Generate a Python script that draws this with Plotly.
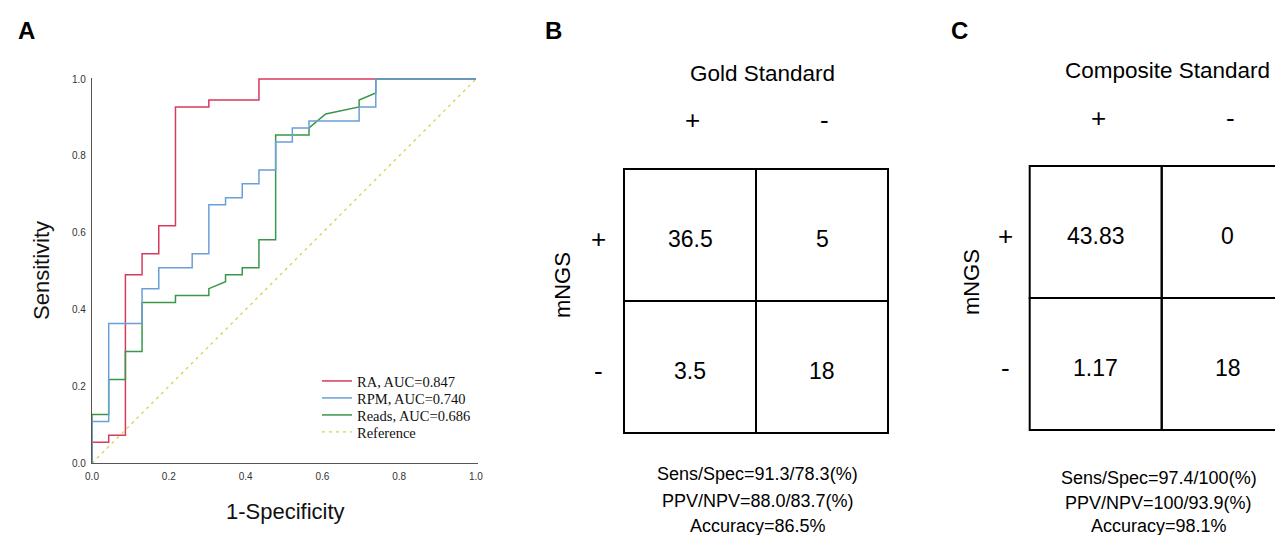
import plotly.graph_objects as go

# ---------------- Panel A: ROC curves ----------------
ra_fpr = [0, 0, 0.0435, 0.0435, 0.087, 0.087, 0.1304, 0.1304, 0.1739, 0.1739,
          0.2174, 0.2174, 0.3043, 0.3043, 0.4348, 0.4348, 1.0]
ra_tpr = [0, 0.0545, 0.0545, 0.0727, 0.0727, 0.4909, 0.4909, 0.5455, 0.5455, 0.6182,
          0.6182, 0.9273, 0.9273, 0.9455, 0.9455, 1.0, 1.0]

rpm_fpr = [0, 0, 0.0435, 0.0435, 0.1304, 0.1304, 0.1739, 0.1739, 0.2609, 0.2609,
           0.3043, 0.3043, 0.3478, 0.3478, 0.3913, 0.3913, 0.4348, 0.4348, 0.4783, 0.4783,
           0.5217, 0.5217, 0.5652, 0.5652, 0.6957, 0.6957, 0.7391, 0.7391, 1.0]
rpm_tpr = [0, 0.1091, 0.1091, 0.3636, 0.3636, 0.4545, 0.4545, 0.5091, 0.5091, 0.5455,
           0.5455, 0.6727, 0.6727, 0.6909, 0.6909, 0.7273, 0.7273, 0.7636, 0.7636, 0.8364,
           0.8364, 0.8727, 0.8727, 0.8909, 0.8909, 0.9273, 0.9273, 1.0, 1.0]

reads_fpr = [0, 0, 0.0435, 0.0435, 0.087, 0.087, 0.1304, 0.1304, 0.2174, 0.2174,
             0.3043, 0.3043, 0.3478, 0.3478, 0.3913, 0.3913, 0.4348, 0.4348, 0.4783, 0.4783,
             0.5652, 0.5652, 0.6087, 0.6957, 0.6957, 0.7391, 0.7391, 1.0]
reads_tpr = [0, 0.1273, 0.1273, 0.2182, 0.2182, 0.2909, 0.2909, 0.4182, 0.4182, 0.4364,
             0.4364, 0.4545, 0.4727, 0.4909, 0.4909, 0.5091, 0.5091, 0.5818, 0.5818, 0.8545,
             0.8545, 0.8727, 0.9091, 0.9273, 0.9455, 0.9636, 1.0, 1.0]

ref_x = [0, 1]
ref_y = [0, 1]

roc_names = ["RA, AUC=0.847", "RPM, AUC=0.740", "Reads, AUC=0.686", "Reference"]
roc_ticks = [0.0, 0.2, 0.4, 0.6, 0.8, 1.0]

# ---------------- Panels B & C: 2x2 tables ----------------
col_labels = ["+", "-"]
row_labels = ["+", "-"]
row_title = "mNGS"

gold_title = "Gold Standard"
gold_values = [["36.5", "5"], ["3.5", "18"]]
gold_stats = ["Sens/Spec=91.3/78.3(%)", "PPV/NPV=88.0/83.7(%)", "Accuracy=86.5%"]

comp_title = "Composite Standard"
comp_values = [["43.83", "0"], ["1.17", "18"]]
comp_stats = ["Sens/Spec=97.4/100(%)", "PPV/NPV=100/93.9(%)", "Accuracy=98.1%"]

panel_letters = ["A", "B", "C"]

# ---------------- styling ----------------
W, H = 1283, 535
OFF = 8.0  # page body margin of the html page
SANS = "Liberation Sans, Arial, sans-serif"
SERIF = "Liberation Serif, Times New Roman, serif"
C_RA = "#d8395e"
C_RPM = "#6a9fd8"
C_READS = "#3a9648"
C_REF = "#dcd245"


def px_x(p):
    return (p - OFF) / W


def px_y(p):
    return 1 - (p - OFF) / H


fig = go.Figure()

legend_ids = ["legend", "legend2", "legend3", "legend4"]
fig.add_trace(go.Scatter(x=ref_x, y=ref_y, mode="lines", name=roc_names[3],
                         line=dict(color=C_REF, width=1.3, dash="3px,4px"),
                         legend=legend_ids[3], xaxis="x", yaxis="y"))
fig.add_trace(go.Scatter(x=ra_fpr, y=ra_tpr, mode="lines", name=roc_names[0],
                         line=dict(color=C_RA, width=1.5), legend=legend_ids[0],
                         xaxis="x", yaxis="y"))
fig.add_trace(go.Scatter(x=reads_fpr, y=reads_tpr, mode="lines", name=roc_names[2],
                         line=dict(color=C_READS, width=1.5), legend=legend_ids[2],
                         xaxis="x", yaxis="y"))
fig.add_trace(go.Scatter(x=rpm_fpr, y=rpm_tpr, mode="lines", name=roc_names[1],
                         line=dict(color=C_RPM, width=1.5), legend=legend_ids[1],
                         xaxis="x", yaxis="y"))

annotations = []
shapes = []

# panel A axis titles
annotations.append(dict(x=px_x(285), y=px_y(511), xref="paper", yref="paper",
                        xanchor="center", yanchor="middle",
                        text="1-Specificity", showarrow=False,
                        font=dict(family=SANS, size=22, color="#111")))
annotations.append(dict(x=px_x(41), y=px_y(271), xref="paper", yref="paper",
                        xanchor="center", yanchor="middle",
                        text="Sensitivity", showarrow=False, textangle=-90,
                        font=dict(family=SANS, size=22, color="#111")))

# panel letters
for letter, (lx, ly) in zip(panel_letters, [(26, 31), (553, 30), (960, 31)]):
    annotations.append(dict(x=px_x(lx), y=px_y(ly), xref="paper", yref="paper",
                            xanchor="center", yanchor="middle",
                            text="<b>%s</b>" % letter, showarrow=False,
                            font=dict(family=SANS, size=24, color="#000")))


def txt(x, y, xr, yr, text, size, angle=0):
    annotations.append(dict(x=x, y=y, xref=xr, yref=yr, xanchor="center",
                            yanchor="middle", text=text, showarrow=False,
                            textangle=angle,
                            font=dict(family=SANS, size=size, color="#000")))


def add_table(xr, yr, title, values, stats, pos):
    for r in range(len(row_labels)):
        for c in range(len(col_labels)):
            shapes.append(dict(type="rect", xref=xr, yref=yr, x0=c, x1=c + 1,
                               y0=r, y1=r + 1, line=dict(color="#000", width=2),
                               fillcolor="rgba(0,0,0,0)"))
            txt(c + 0.5, r + 0.53, xr, yr, values[r][c], 23)
    for c, lab in enumerate(col_labels):
        txt(c + 0.52, pos["col_y"], xr, yr, lab, 26)
    for r, lab in enumerate(row_labels):
        txt(pos["row_x"], r + 0.53, xr, yr, lab, 26)
    txt(pos["mngs_x"], 0.88, xr, yr, row_title, 22, angle=-90)
    txt(pos["title_x"], pos["title_y"], xr, yr, title, 22.5)
    for s, sy in zip(stats, pos["stats_y"]):
        txt(pos["stats_x"], sy, xr, yr, s, 18)


add_table("x2", "y2", gold_title, gold_values, gold_stats,
          dict(col_y=-0.37, row_x=-0.19, mngs_x=-0.47, title_x=1.05, title_y=-0.72,
               stats_x=1.015, stats_y=[2.311, 2.515, 2.705]))
add_table("x3", "y3", comp_title, comp_values, comp_stats,
          dict(col_y=-0.364, row_x=-0.187, mngs_x=-0.445, title_x=1.041, title_y=-0.727,
               stats_x=0.977, stats_y=[2.36, 2.55, 2.725]))

CELL = 132.0
b_left, b_top = 624.0, 169.0
c_left, c_top = 1029.7, 166.0
page_right = W + OFF
page_bottom = H + OFF

# table axis ranges (in cell units), domains derived from them
b_xr = [-0.6, 2.3]
b_yr = [-0.9, (page_bottom - b_top) / CELL]
c_xr = [-0.6, (page_right - c_left) / CELL]
c_yr = [-0.9, (page_bottom - c_top) / CELL]

axis_common = dict(showgrid=False, zeroline=False, showline=False, ticks="",
                   showticklabels=False, fixedrange=True)

legend_rows_y = [381, 398, 415, 432]
legends = {}
for lid, ry in zip(legend_ids, legend_rows_y):
    legends[lid] = dict(x=px_x(317), y=px_y(ry), xanchor="left", yanchor="middle",
                        bgcolor="rgba(0,0,0,0)",
                        font=dict(family=SERIF, size=14.5, color="#111"),
                        itemwidth=30)

fig.update_layout(
    width=W, height=H, autosize=False,
    margin=dict(l=0, r=0, t=0, b=0, pad=0, autoexpand=False),
    paper_bgcolor="white", plot_bgcolor="white",
    showlegend=True,
    xaxis=dict(domain=[px_x(92), px_x(477.5)], range=[0, 1.004],
               tickvals=roc_ticks, ticktext=["%.1f" % t for t in roc_ticks],
               showgrid=False, zeroline=False, showline=True, linecolor="#555",
               linewidth=1.3, ticks="", ticklabelstandoff=4,
               tickfont=dict(family=SANS, size=10, color="#333"), anchor="y",
               automargin=False),
    yaxis=dict(domain=[px_y(463.3), px_y(77.5)], range=[0, 1.004],
               tickvals=roc_ticks, ticktext=["%.1f" % t for t in roc_ticks],
               showgrid=False, zeroline=False, showline=True, linecolor="#555",
               linewidth=1.3, ticks="", ticklabelstandoff=3,
               tickfont=dict(family=SANS, size=10, color="#333"), anchor="x",
               automargin=False),
    xaxis2=dict(domain=[px_x(b_left + CELL * b_xr[0]), px_x(b_left + CELL * b_xr[1])],
                range=b_xr, anchor="y2", **axis_common),
    yaxis2=dict(domain=[max(0.0, px_y(b_top + CELL * b_yr[1])), px_y(b_top + CELL * b_yr[0])],
                range=b_yr[::-1], anchor="x2", **axis_common),
    xaxis3=dict(domain=[px_x(c_left + CELL * c_xr[0]), 1.0],
                range=c_xr, anchor="y3", **axis_common),
    yaxis3=dict(domain=[max(0.0, px_y(c_top + CELL * c_yr[1])), px_y(c_top + CELL * c_yr[0])],
                range=c_yr[::-1], anchor="x3", **axis_common),
    annotations=annotations,
    shapes=shapes,
    **legends,
)

fig.write_html("out.html")
